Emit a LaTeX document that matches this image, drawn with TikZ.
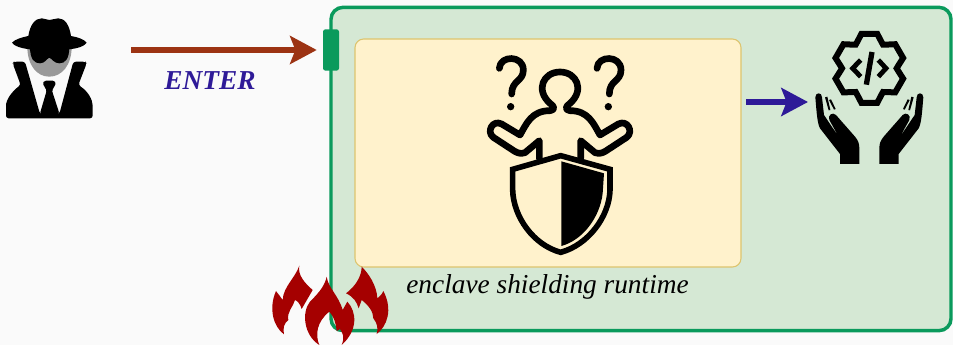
\documentclass[tikz,border=0pt]{standalone}
\usepackage{fontspec}
\setmainfont{Liberation Serif}
\usetikzlibrary{
  arrows.meta,
  positioning
}
\definecolor{pagecolor}{RGB}{250, 250, 250}
\definecolor{enclavefill}{RGB}{213, 232, 212}
\definecolor{enclavecolor}{RGB}{10, 154, 92}
\definecolor{shieldfill}{RGB}{255, 242, 204}
\definecolor{shieldline}{RGB}{221, 196, 110}
\definecolor{enterarrowcolor}{RGB}{156, 51, 19}
\definecolor{leavecolor}{RGB}{46, 26, 152}
\definecolor{flamecolor}{RGB}{165, 0, 0}
\tikzset{
enclavebox/.style={
  draw=enclavecolor,
  fill=enclavefill,
  line width=2.6pt,
  rounded corners=9pt,
  minimum width=465pt,
  minimum height=242.5pt
},
runtimebox/.style={
  draw=shieldline,
  fill=shieldfill,
  line width=0.8pt,
  rounded corners=6.5pt,
  minimum width=289.5pt,
  minimum height=171pt
},
portbox/.style={
  fill=enclavecolor,
  rounded corners=1.8pt,
  minimum width=12pt,
  minimum height=31pt
},
enterlabel/.style={
  font=\fontsize{20.5}{22}\selectfont\bfseries\itshape,
  text=leavecolor
},
runtimelabel/.style={
  font=\fontsize{20.5}{24}\selectfont\itshape,
  text=black
},
arrow/.style={
  -{Stealth[length=20pt,width=21pt,inset=4pt]},
  line width=4.4pt
},
zoomed/.style={
  x=0.25pt,
  y=-0.25pt
},
icon/.style={
  draw=black,
  line width=5pt,
  line cap=round,
  line join=round
}
}
\begin{document}
\begin{tikzpicture}[x=0.75pt,y=-0.75pt]
\useasboundingbox[fill=pagecolor] (0,0) rectangle (953,345);
\node[enclavebox] (enclave) at (641,169) {};
\node[runtimebox] (runtime) at (548,153) {};
\node[portbox] (port) at (331,50) {};
\node[enterlabel] (enter) at (210,81) {ENTER};
\node[runtimelabel] (runtimetext) at (547.5,286.5) {enclave shielding runtime};

\coordinate (enterstart) at (131,50);
\coordinate (leavestart) at (746,102);
\coordinate (leaveend) at (808,102);
\draw[arrow, draw=enterarrowcolor, fill=enterarrowcolor, shorten >=4.5pt] (enterstart) -- (port.west);
\draw[arrow, draw=leavecolor, fill=leavecolor] (leavestart) -- (leaveend);

% intruder
\begin{scope}[zoomed]
  \fill[black!40] (82,140) .. controls (82,195) and (110,230) .. (148,230)
    .. controls (186,230) and (215,195) .. (215,140) -- cycle;
  \fill[black] (36,128) .. controls (45,118) and (65,112) .. (85,108)
    .. controls (90,75) and (105,55) .. (125,55) .. controls (135,55) and (140,60) .. (148,60)
    .. controls (156,60) and (165,55) .. (175,55) .. controls (195,55) and (208,75) .. (213,108)
    .. controls (235,112) and (252,118) .. (260,128)
    .. controls (250,142) and (225,150) .. (148,152) .. controls (75,150) and (46,142) .. (36,128) -- cycle;
  \fill[black] (90,140) .. controls (90,178) and (103,190) .. (120,190)
    .. controls (135,190) and (140,176) .. (148,173) .. controls (156,176) and (162,190) .. (178,190)
    .. controls (195,190) and (208,178) .. (208,140) -- cycle;
  \fill[black, rounded corners=2pt] (38,190) -- (42,185) -- (75,185) -- (120,342) -- (178,342) -- (220,185)
    -- (256,185) -- (260,190) -- (235,255) .. controls (265,275) and (278,300) .. (278,325)
    -- (278,355) -- (18,355) -- (18,325) .. controls (18,300) and (35,275) .. (62,255) -- cycle;
  \fill[black, rounded corners=1pt] (128,250) -- (134,242) -- (162,242) -- (168,250) -- (156,272)
    -- (178,340) -- (150,355) -- (120,340) -- (140,272) -- cycle;
\end{scope}

% confused user behind the shield
\begin{scope}[shift={(470,40)},zoomed]
  \draw[icon] (208,355) -- (208,302) -- (165,338) .. controls (150,345) and (135,335) .. (125,328)
    -- (70,292) .. controls (48,275) and (68,238) .. (95,252) -- (150,285)
    .. controls (170,250) and (185,212) .. (240,212) .. controls (255,210) and (255,200) .. (240,190)
    .. controls (195,150) and (220,96) .. (270,96) .. controls (320,96) and (345,150) .. (300,190)
    .. controls (285,200) and (285,210) .. (300,212) .. controls (355,212) and (370,250) .. (390,285)
    -- (445,252) .. controls (472,238) and (492,275) .. (470,292) -- (415,328)
    .. controls (405,335) and (390,345) .. (375,338) -- (332,302) -- (332,355);
  \foreach \qx in {0,293}{
    \draw[icon] (\qx+88,85) .. controls (\qx+90,45) and (\qx+160,45) .. (\qx+160,90)
      .. controls (\qx+160,125) and (\qx+125,120) .. (\qx+125,162);
    \fill[black] (\qx+122,200) circle[radius=11];
  }
  \draw[icon, line width=4.2pt, fill=shieldfill, line cap=butt, line join=miter] (272,347) -- (128,388) -- (128,450)
    .. controls (130,530) and (190,615) .. (272,637)
    .. controls (354,615) and (418,530) .. (420,450) -- (420,388) -- cycle;
  \fill[black] (274,364) -- (402,400) -- (398,460) .. controls (390,530) and (340,600) .. (274,618) -- cycle;
\end{scope}

% code in hands
\begin{scope}[shift={(740,20)},zoomed]
  \begin{scope}[shift={(388,145)}]
    \draw[icon, line width=4.5pt, line cap=butt, line join=miter] (77:106) -- (103:106)
      \foreach \a in {150,210,270,330,30}{
        -- (\a-60+24:88) -- (\a-30:82) -- (\a-24:88) -- (\a-13:106) -- (\a+13:106)
      }
      -- (54:88) -- (60:82) -- (66:88) -- cycle;
  \end{scope}
  \draw[icon, line width=3.6pt, line cap=butt, line join=miter] (362,120) -- (338,145) -- (362,170);
  \draw[icon, line width=3.6pt, line cap=butt, line join=miter] (415,120) -- (438,145) -- (415,170);
  \draw[icon, line width=4pt, line cap=butt] (396,96) -- (379,194);
  \foreach \flip/\off in {1/0,-1/776}{
    \begin{scope}[shift={(\off,0)},xscale=\flip]
      \fill[black] (226,232) .. controls (226,216) and (246,216) .. (246,232)
        -- (252,285) -- (297,352) -- (268,300) .. controls (262,285) and (278,275) .. (288,285)
        -- (345,350) .. controls (355,362) and (358,372) .. (358,385) -- (358,432) -- (300,432)
        -- (300,402) -- (240,325) .. controls (232,310) and (230,280) .. (226,232) -- cycle;
      \fill[black] (255,232) -- (262,230) -- (271,270) -- (266,271) -- cycle;
      \fill[black] (267,240) -- (273,238) -- (287,267) -- (282,269) -- cycle;
    \end{scope}
  }
\end{scope}

% flames
\begin{scope}[shift={(260,255)},zoomed]
  \fill[flamecolor] (118,32) .. controls (112,60) and (135,85) .. (158,105) -- (125,162)
    .. controls (120,145) and (112,138) .. (105,135) .. controls (100,155) and (80,170) .. (85,195)
    .. controls (72,205) and (68,220) .. (72,238) .. controls (40,215) and (25,160) .. (48,108)
    .. controls (55,118) and (62,125) .. (68,135) .. controls (70,95) and (105,70) .. (118,32) -- cycle;
  \fill[flamecolor] (200,65) .. controls (205,100) and (235,120) .. (248,165) -- (262,140)
    .. controls (290,170) and (295,225) .. (245,270) .. controls (255,245) and (248,235) .. (240,222)
    -- (230,228) .. controls (228,205) and (222,185) .. (208,170) .. controls (170,200) and (165,240) .. (178,270)
    .. controls (130,240) and (125,170) .. (150,140) .. controls (180,110) and (195,90) .. (200,65) -- cycle;
  \fill[flamecolor] (305,35) .. controls (305,65) and (285,95) .. (258,115) .. controls (280,125) and (290,140) .. (296,160)
    -- (305,135) .. controls (325,150) and (340,170) .. (340,190) .. controls (352,205) and (355,220) .. (350,237)
    .. controls (380,215) and (400,165) .. (370,108) .. controls (365,120) and (358,125) .. (352,130)
    .. controls (350,90) and (325,55) .. (305,35) -- cycle;
\end{scope}
\end{tikzpicture}
\end{document}
